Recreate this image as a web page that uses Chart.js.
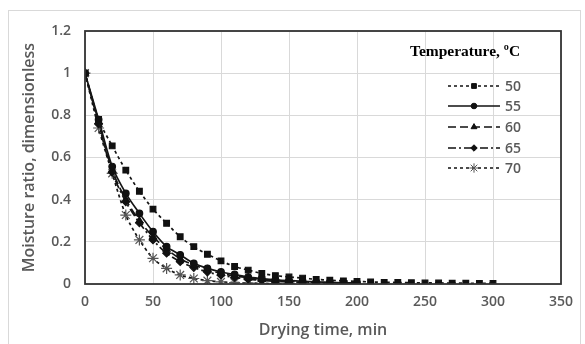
<!DOCTYPE html>
<html><head><meta charset="utf-8">
<script src="https://cdn.jsdelivr.net/npm/chart.js@4/dist/chart.umd.min.js"></script>
<style>html,body{margin:0;padding:0;background:#fff}#w{width:585px;height:344px}</style>
</head><body><div id="w"><canvas id="c" width="585" height="344"></canvas></div>
<script>
const times = [0,10,20,30,40,50,60,70,80,90,100,110,120,130,140,150,160,170,180,190,200,210,220,230,240,250,260,270,280,290,300];
const seriesLabels = ['50','55','60','65','70'];
const mr50 = [1,0.78,0.655,0.54,0.44,0.355,0.288,0.224,0.177,0.141,0.11,0.083,0.066,0.05,0.04,0.033,0.028,0.022,0.018,0.015,0.012,0.01,0.008,0.007,0.006,0.005,0.005,0.004,0.004,0.003,0.003];
const mr55 = [1,0.78,0.557,0.43,0.335,0.248,0.177,0.138,0.098,0.074,0.057,0.045,0.033,0.026,0.02,0.016,0.013,0.01,0.008,0.006,0.005];
const mr60 = [1,0.77,0.54,0.40,0.30,0.225,0.165,0.12,0.09,0.068,0.05,0.038,0.03,0.022,0.017,0.013,0.01,0.008,0.006,0.005,0.004];
const mr65 = [1,0.76,0.53,0.39,0.29,0.209,0.146,0.106,0.078,0.057,0.042,0.031,0.023,0.017,0.013,0.01,0.008,0.006,0.005];
const mr70 = [1,0.74,0.525,0.327,0.209,0.122,0.074,0.043,0.026,0.016,0.01,0.007,0.005,0.003,0.002,0.002];
const xTicks = [0,50,100,150,200,250,300,350];
const yTicks = [0,0.2,0.4,0.6,0.8,1,1.2];

const toPts = arr => arr.map((v,i)=>({x:times[i],y:v}));
const styles = [
  {dash:[3,3], shape:'rect', r:4, col:'#111'},
  {dash:[], shape:'circle', r:3.3, col:'#111'},
  {dash:[8,4], shape:'triangle', r:4, col:'#111'},
  {dash:[8,3,2,3], shape:'rectRot', r:3.8, col:'#111'},
  {dash:[3,3], shape:'star', r:5.5, col:'#555'}
];
const allData = [mr50,mr55,mr60,mr65,mr70];
const datasets = allData.map((d,i)=>({
  label: seriesLabels[i],
  data: toPts(d),
  borderColor: '#151515',
  backgroundColor: styles[i].col,
  pointBorderColor: styles[i].col,
  pointBackgroundColor: styles[i].col,
  borderWidth: 1.7,
  borderDash: styles[i].dash,
  pointStyle: styles[i].shape,
  pointRadius: styles[i].r,
  pointBorderWidth: 1.2,
  tension: 0.3,
  fill:false
}));

const txtFont = '"Open Sans", sans-serif';
const frame = {
  id:'frame',
  beforeDraw(chart){
    const c = chart.ctx;
    c.save();
    c.fillStyle='#fff'; c.fillRect(0,0,chart.width,chart.height);
    c.strokeStyle='#d9d9d9'; c.lineWidth=1;
    c.strokeRect(8.5,10.5,572,340);
    c.restore();
  },
  afterDraw(chart){
    const c = chart.ctx, a = chart.chartArea;
    c.save();
    c.strokeStyle='#333'; c.lineWidth=1.8;
    c.strokeRect(a.left,a.top,a.right-a.left,a.bottom-a.top);
    // legend
    c.fillStyle='#000';
    c.font='bold 15.5px "Liberation Serif", serif';
    c.textBaseline='middle'; c.textAlign='left';
    c.fillText('Temperature, \u00BAC', 410, 52);
    const ys=[86,106,127,148,168];
    datasets.forEach((ds,i)=>{
      const y=ys[i];
      c.save();
      c.strokeStyle='#111'; c.lineWidth=1.5; c.setLineDash(ds.borderDash);
      c.beginPath(); c.moveTo(448,y); c.lineTo(500,y); c.stroke();
      c.restore();
      c.save();
      c.fillStyle=ds.pointBackgroundColor; c.strokeStyle=ds.pointBorderColor; c.lineWidth=1;
      Chart.helpers.drawPoint(c,{pointStyle:ds.pointStyle,radius:ds.pointRadius*0.85,rotation:0,borderWidth:1},474,y);
      c.restore();
      c.fillStyle='#595959'; c.font='600 14px '+txtFont;
      c.fillText(ds.label, 505, y+1);
    });
    c.restore();
  }
};

new Chart(document.getElementById('c'),{
  type:'line',
  data:{datasets},
  options:{
    responsive:false, animation:false,
    layout:{padding:{left:0,top:31,right:24,bottom:0}},
    plugins:{legend:{display:false},tooltip:{enabled:false}},
    scales:{
      x:{type:'linear',min:0,max:350,
        afterBuildTicks(s){s.ticks=xTicks.map(v=>({value:v}));},
        afterFit(s){s.height=60;},
        grid:{color:'#d9d9d9',lineWidth:1,drawTicks:false},
        border:{display:false},
        ticks:{color:'#595959',font:{family:txtFont,size:14,weight:'600'},padding:10,maxRotation:0},
        title:{display:true,text:'Drying time, min',color:'#595959',font:{family:txtFont,size:16,weight:'600'},padding:{top:0}}
      },
      y:{min:0,max:1.2,
        afterBuildTicks(s){s.ticks=yTicks.map(v=>({value:v}));},
        afterFit(s){s.width=85;},
        grid:{color:'#d9d9d9',lineWidth:1,drawTicks:false},
        border:{display:false},
        ticks:{color:'#595959',font:{family:txtFont,size:14,weight:'600'},padding:14,callback:v=>String(+v.toFixed(1))},
        title:{display:true,text:'Moisture ratio, dimensionless',color:'#595959',font:{family:txtFont,size:16,weight:'600'},padding:{top:20,bottom:0}}
      }
    }
  },
  plugins:[frame]
});
</script></body></html>
